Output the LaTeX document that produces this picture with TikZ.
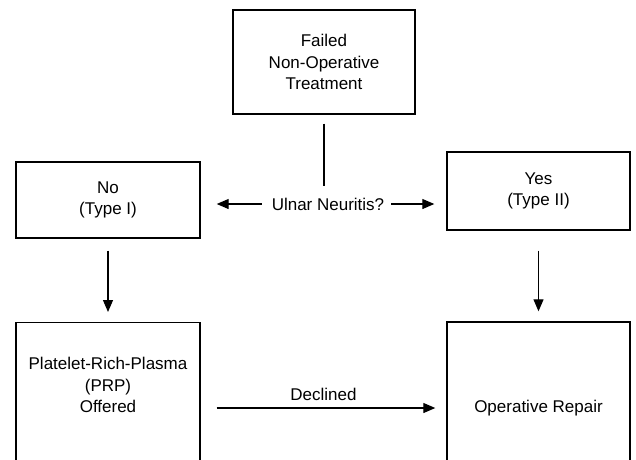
\documentclass[tikz,border=0pt]{standalone}
\usepackage{fontspec}
\setmainfont{Liberation Sans}
\usetikzlibrary{arrows.meta,positioning}

\tikzset{
  box/.style={draw, line width=1.4pt, align=center, inner sep=0pt},
  link/.style={line width=1.2pt},
  arr/.style={link, -{Triangle[length=12pt,width=10pt]}}
}

\begin{document}
\begin{tikzpicture}[x=1pt,y=-1pt,font=\fontsize{17}{21.5}\selectfont]
  \useasboundingbox (0,0) rectangle (636,459);
  \clip (0,0) rectangle (636,459);
  % boxes
  \node[box, minimum width=182pt, minimum height=104pt] (fail) at (324,62)
    {Failed\\Non-Operative\\Treatment};
  \node[box, minimum width=184pt, minimum height=76pt] (no) at (108,200)
    {No\\(Type I)};
  \node[box, minimum width=183pt, minimum height=78pt] (yes) at (538.5,191)
    {Yes\\(Type II)};
  \node[box, minimum width=184pt, minimum height=200pt, anchor=north] (prp) at (108,322) {};
  \node[align=center, inner sep=0pt] (prptext) at (108,385)
    {Platelet-Rich-Plasma\\(PRP)\\Offered};
  \node[box, minimum width=183pt, minimum height=172pt] (op) at (538.5,408)
    {Operative Repair};
  % question
  \node[inner sep=0pt] (ulnar) at (328,204) {Ulnar Neuritis?};
  % connectors
  \draw[link, shorten <=9pt, shorten >=12pt] (fail.south) -- (fail.south |- ulnar.north);
  \draw[arr, shorten <=10pt, shorten >=16pt] (ulnar.west) -- (no.east |- ulnar.west);
  \draw[arr, shorten <=7pt, shorten >=12pt] (ulnar.east) -- (yes.west |- ulnar.east);
  \draw[arr, shorten <=12pt, shorten >=10pt] (no.south) -- (prp.north);
  \draw[arr, shorten <=20pt, shorten >=10pt] (yes.south) -- (op.north);
  \draw[arr, shorten <=16pt, shorten >=11pt] (prp.east |- op.west) -- (op.west)
    node[midway, above=7pt, inner sep=0pt] (declined) {Declined};
\end{tikzpicture}
\end{document}
